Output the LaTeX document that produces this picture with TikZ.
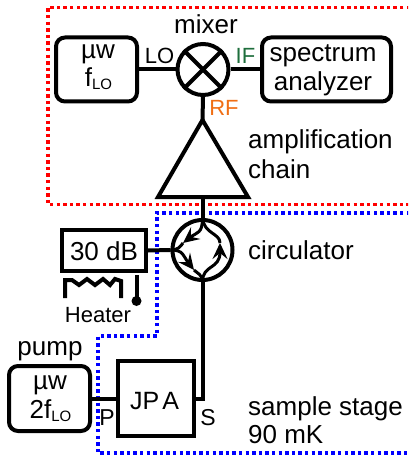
\documentclass[tikz,border=0pt]{standalone}
\usepackage{fontspec}
\setmainfont{Liberation Sans}
\usetikzlibrary{arrows.meta}
\definecolor{redb}{RGB}{255,0,0}
\definecolor{blueb}{RGB}{0,0,255}
\definecolor{ifg}{RGB}{30,110,60}
\definecolor{rfo}{RGB}{240,110,20}
\tikzset{
 x=1pt,y=-1pt,
 wire/.style={line width=4pt,line cap=butt},
 rbox/.style={draw,line width=4pt,rounded corners=9pt,inner sep=0pt},
 sbox/.style={draw,line width=4pt,inner sep=0pt},
 lab/.style={anchor=base,inner sep=0pt,font=\fontsize{26}{26}\selectfont},
 labs/.style={lab,font=\fontsize{22}{22}\selectfont},
 labl/.style={lab,anchor=base west},
 dotr/.style={draw=redb,line width=3.4pt,dash pattern=on 3.4pt off 3.2pt},
 dotb/.style={draw=blueb,line width=3.4pt,dash pattern=on 3.4pt off 3.2pt},
 circ/.style={draw,circle,line width=4pt,inner sep=0pt},
 cv/.style={line width=3pt},
 cva/.style={cv,-{Stealth[length=16pt,width=15pt,inset=6pt]}},
}
\newcommand{\lo}{\raisebox{-3pt}{\fontsize{15}{15}\selectfont LO}}
\begin{document}
\begin{tikzpicture}
\useasboundingbox (0,0) rectangle (408,457);
\clip (0,0) rectangle (408,457);
\draw[dotr] (410,7.5) -- (48,7.5) -- (48,204.5) -- (410,204.5);
\draw[dotb] (410,213) -- (157,213) -- (157,336) -- (98,336) -- (98,453) -- (410,453);
% nodes
\node[rbox,minimum width=81pt,minimum height=64pt] (lobox) at (96.5,69.5) {};
\node[rbox,minimum width=129pt,minimum height=64pt] (sa) at (326.5,69.5) {};
\node[circ,minimum size=51pt] (mix) at (203,69.5) {};
\node[sbox,minimum width=84pt,minimum height=41pt] (att) at (104,250.5) {};
\node[circ,minimum size=60pt] (cir) at (202.5,250) {};
\node[sbox,minimum width=76pt,minimum height=75pt] (jpa) at (156,398.5) {};
\node[rbox,minimum width=81pt,minimum height=65pt] (pmp) at (49.5,398.5) {};
\coordinate (apex) at (202.5,120);
\coordinate (bl) at (158,197);
\coordinate (br) at (248,197);
\coordinate (bm) at (202.5,197);
\coordinate (jc) at (202.5,398.5);
\coordinate (ta) at (183,243);
\coordinate (tb) at (194,270);
\coordinate (tc) at (220,243);
% connectors
\draw[wire] (lobox.east) -- (mix.west);
\draw[wire] (mix.east) -- (sa.west);
\draw[wire] (mix.south) -- (apex);
\draw[line width=4pt,line join=miter] (apex) -- (br) -- (bl) -- cycle;
\draw[wire] (bm) -- (cir.north);
\draw[wire] (att.east) -- (cir.west);
\draw[wire,line join=miter] (cir.south) -- (jc) -- (jpa.east);
\draw[wire] (pmp.east) -- (jpa.west);
\draw[wire] (mix.north east) -- (mix.south west);
\draw[wire] (mix.north west) -- (mix.south east);
% circulator
\draw[cva] (cir.north) .. controls (202.5,234) and (197,232) .. (ta);
\draw[cv] (ta) .. controls (180,247) and (178,250) .. (cir.west);
\draw[cva] (cir.west) .. controls (184,250) and (183,256) .. (tb);
\draw[cv] (tb) .. controls (198,274) and (202,274) .. (cir.south);
\draw[cva] (cir.south) .. controls (202.5,264) and (220,270) .. (tc);
\draw[cv] (tc) .. controls (220,233) and (204,234) .. (cir.north);
% heater
\draw[line width=4pt,line join=miter] (65,298) -- (65,280) -- (72,280) -- (79,285) -- (87,279) -- (95,285) -- (103,279) -- (110,285) -- (115,279) -- (121,281) -- (121,298);
\draw[line width=4pt] (136.5,275) -- (136.5,300);
\fill (136.5,301) circle (5pt);
% labels
\node[lab] (t1) at (206,34) {mixer};
\node[lab] (t2) at (98,59) {µw};
\node[lab] (t3) at (98.5,87) {f\lo};
\node[labs] (t4) at (159.5,64) {LO};
\node[labs,text=ifg] (t5) at (245.5,64) {IF};
\node[labs,text=rfo] (t6) at (224,116) {RF};
\node[lab] (t7) at (323,62) {spectrum};
\node[lab] (t8) at (323,91) {analyzer};
\node[labl] (t9) at (248,149) {amplification};
\node[labl] (t10) at (248,178) {chain};
\node[labl] (t11) at (248,259) {circulator};
\node[lab] (t12) at (104,260) {30 dB};
\node[labs] (t13) at (98,322) {Heater};
\node[lab] (t14) at (50,355) {pump};
\node[lab] (t15) at (50,389) {µw};
\node[lab] (t16) at (50.5,418) {2f\lo};
\node[lab,font=\fontsize{25}{25}\selectfont] (t17) at (154.5,409) {\spaceskip=3pt JP A};
\node[labs,font=\fontsize{23}{23}\selectfont] (t18) at (107,425) {P};
\node[labs,font=\fontsize{23}{23}\selectfont] (t19) at (208,425) {S};
\node[labl] (t20) at (248,415) {sample stage};
\node[labl] (t21) at (248,443) {90 mK};
\end{tikzpicture}
\end{document}
